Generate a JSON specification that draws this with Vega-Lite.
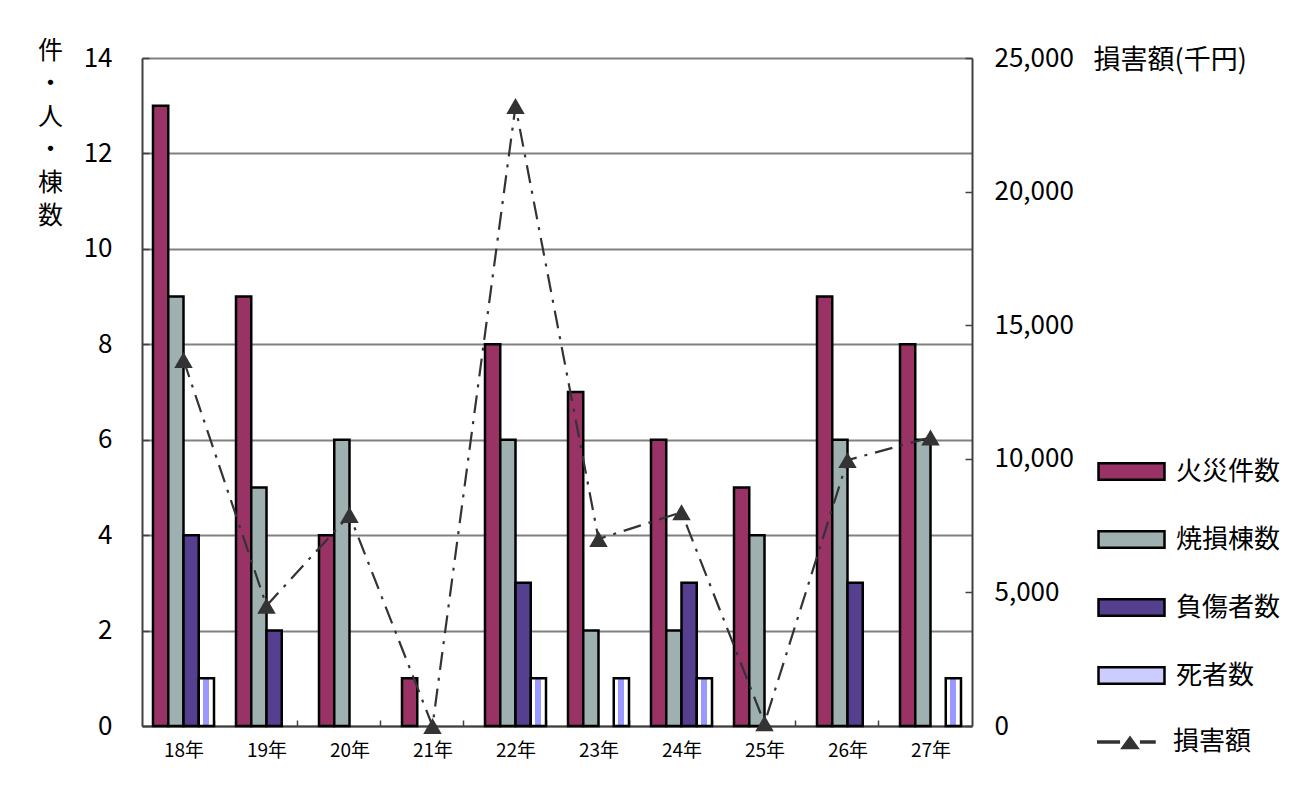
{
  "$schema": "https://vega.github.io/schema/vega-lite/v6.json",
  "autosize": {"type": "none"},
  "width": 830,
  "height": 668,
  "padding": {"left": 142, "top": 58, "right": 324, "bottom": 75},
  "background": "white",
  "config": {
    "font": "Noto Sans CJK JP",
    "view": {"stroke": null},
    "axis": {"labelColor": "black", "titleColor": "black", "labelFont": "Noto Sans CJK JP", "titleFont": "Noto Sans CJK JP"},
    "legend": {"labelFont": "Noto Sans CJK JP", "labelColor": "black"}
  },
  "datasets": {
    "bars": [
      {"year": "18年", "series": "火災件数", "value": 13},
      {"year": "18年", "series": "焼損棟数", "value": 9},
      {"year": "18年", "series": "負傷者数", "value": 4},
      {"year": "18年", "series": "死者数", "value": 1},
      {"year": "19年", "series": "火災件数", "value": 9},
      {"year": "19年", "series": "焼損棟数", "value": 5},
      {"year": "19年", "series": "負傷者数", "value": 2},
      {"year": "19年", "series": "死者数", "value": 0},
      {"year": "20年", "series": "火災件数", "value": 4},
      {"year": "20年", "series": "焼損棟数", "value": 6},
      {"year": "20年", "series": "負傷者数", "value": 0},
      {"year": "20年", "series": "死者数", "value": 0},
      {"year": "21年", "series": "火災件数", "value": 1},
      {"year": "21年", "series": "焼損棟数", "value": 0},
      {"year": "21年", "series": "負傷者数", "value": 0},
      {"year": "21年", "series": "死者数", "value": 0},
      {"year": "22年", "series": "火災件数", "value": 8},
      {"year": "22年", "series": "焼損棟数", "value": 6},
      {"year": "22年", "series": "負傷者数", "value": 3},
      {"year": "22年", "series": "死者数", "value": 1},
      {"year": "23年", "series": "火災件数", "value": 7},
      {"year": "23年", "series": "焼損棟数", "value": 2},
      {"year": "23年", "series": "負傷者数", "value": 0},
      {"year": "23年", "series": "死者数", "value": 1},
      {"year": "24年", "series": "火災件数", "value": 6},
      {"year": "24年", "series": "焼損棟数", "value": 2},
      {"year": "24年", "series": "負傷者数", "value": 3},
      {"year": "24年", "series": "死者数", "value": 1},
      {"year": "25年", "series": "火災件数", "value": 5},
      {"year": "25年", "series": "焼損棟数", "value": 4},
      {"year": "25年", "series": "負傷者数", "value": 0},
      {"year": "25年", "series": "死者数", "value": 0},
      {"year": "26年", "series": "火災件数", "value": 9},
      {"year": "26年", "series": "焼損棟数", "value": 6},
      {"year": "26年", "series": "負傷者数", "value": 3},
      {"year": "26年", "series": "死者数", "value": 0},
      {"year": "27年", "series": "火災件数", "value": 8},
      {"year": "27年", "series": "焼損棟数", "value": 6},
      {"year": "27年", "series": "負傷者数", "value": 0},
      {"year": "27年", "series": "死者数", "value": 1}
    ],
    "damage": [
      {"year": "18年", "label": "損害額", "damage": 13700},
      {"year": "19年", "label": "損害額", "damage": 4500},
      {"year": "20年", "label": "損害額", "damage": 7900},
      {"year": "21年", "label": "損害額", "damage": 0},
      {"year": "22年", "label": "損害額", "damage": 23200},
      {"year": "23年", "label": "損害額", "damage": 7000},
      {"year": "24年", "label": "損害額", "damage": 8000},
      {"year": "25年", "label": "損害額", "damage": 100},
      {"year": "26年", "label": "損害額", "damage": 9950},
      {"year": "27年", "label": "損害額", "damage": 10800}
    ]
  },
  "encoding": {
    "x": {
      "field": "year",
      "type": "nominal",
      "sort": null,
      "scale": {"paddingInner": 0.265, "paddingOuter": 0.1325},
      "axis": {
        "title": null,
        "labelAngle": 0,
        "labelFontSize": 19,
        "labelPadding": 21,
        "tickBand": "extent",
        "tickSize": -6,
        "tickColor": "#404040",
        "tickWidth": 1.5,
        "domainColor": "#404040",
        "domainWidth": 2,
        "grid": false
      }
    }
  },
  "layer": [
    {
      "data": {"name": "bars"},
      "transform": [{"filter": "datum.value > 0"}],
      "mark": {"type": "bar", "stroke": "black", "strokeWidth": 2.5},
      "encoding": {
        "xOffset": {"field": "series", "type": "nominal", "sort": ["火災件数", "焼損棟数", "負傷者数", "死者数"], "scale": {"domain": ["火災件数", "焼損棟数", "負傷者数", "死者数"], "paddingInner": 0, "paddingOuter": 0}},
        "y": {
          "field": "value",
          "type": "quantitative",
          "scale": {"domain": [0, 14], "nice": false},
          "axis": {
            "orient": "left",
            "values": [0, 2, 4, 6, 8, 10, 12, 14],
            "labelFontSize": 26,
            "labelPadding": 37,
            "tickSize": -7,
            "tickColor": "#404040",
            "tickWidth": 1.5,
            "domainColor": "#404040",
            "domainWidth": 2,
            "grid": true,
            "gridColor": "#808080",
            "gridWidth": 2,
            "title": ["件", "・", "人", "・", "棟", "数"],
            "titleAngle": 0,
            "titleFontSize": 25,
            "titleFontWeight": "normal",
            "titleLineHeight": 33,
            "titleAlign": "center",
            "titleBaseline": "top",
            "titleX": -92,
            "titleY": -20
          }
        },
        "color": {
          "condition": {
            "test": "datum.series === '死者数'",
            "value": {"gradient": "linear", "x1": 0, "y1": 0, "x2": 1, "y2": 0, "stops": [
              {"offset": 0, "color": "#ffffff"},
              {"offset": 0.3, "color": "#ffffff"},
              {"offset": 0.3, "color": "#9999ff"},
              {"offset": 0.65, "color": "#9999ff"},
              {"offset": 0.65, "color": "#ffffff"},
              {"offset": 1, "color": "#ffffff"}
            ]}
          },
          "field": "series",
          "type": "nominal",
          "sort": ["火災件数", "焼損棟数", "負傷者数", "死者数"],
          "scale": {
            "domain": ["火災件数", "焼損棟数", "負傷者数", "死者数"],
            "range": ["#993366", "#9eb0b0", "#553f8f", "#ccccff"]
          },
          "legend": {
            "title": null,
            "orient": "none",
            "legendX": 955,
            "legendY": 379,
            "symbolType": "M-1,-0.25L1,-0.25L1,0.25L-1,0.25Z",
            "symbolSize": 4356,
            "symbolStrokeColor": "black",
            "symbolStrokeWidth": 2.5,
            "labelFontSize": 26,
            "labelOffset": 10,
            "rowPadding": 20,
            "labelLimit": 300
          }
        }
      }
    },
    {
      "data": {"name": "damage"},
      "mark": {"type": "line", "color": "#333333", "strokeWidth": 2.2, "strokeDash": [18, 8, 3, 8]},
      "encoding": {
        "y": {
          "field": "damage",
          "type": "quantitative",
          "scale": {"domain": [0, 25000], "nice": false},
          "axis": {
            "orient": "right",
            "values": [0, 5000, 10000, 15000, 20000, 25000],
            "format": ",d",
            "labelFontSize": 26,
            "labelPadding": 29,
            "tickSize": -7,
            "tickColor": "#404040",
            "tickWidth": 1.5,
            "domainColor": "#404040",
            "domainWidth": 2,
            "grid": false,
            "title": "損害額(千円)",
            "titleAngle": 0,
            "titleFontSize": 27,
            "titleFontWeight": "normal",
            "titleAlign": "left",
            "titleBaseline": "middle",
            "titleX": 121,
            "titleY": 2
          }
        }
      }
    },
    {
      "data": {"name": "damage"},
      "mark": {"type": "point", "filled": true, "shape": "triangle-up", "opacity": 1, "size": 340},
      "encoding": {
        "y": {"field": "damage", "type": "quantitative", "scale": {"domain": [0, 25000], "nice": false}, "axis": null},
        "color": {
          "field": "label",
          "type": "nominal",
          "scale": {"range": ["#333333"]},
          "legend": {
            "title": null,
            "orient": "none",
            "legendX": 955,
            "legendY": 651,
            "symbolType": "M-1,-0.05L-0.3,-0.05L-0.3,0.05L-1,0.05Z M-0.3,0.22L0,-0.2L0.3,0.22Z M0.3,-0.05L0.78,-0.05L0.78,0.05L0.3,0.05Z",
            "symbolSize": 4356,
            "symbolFillColor": "#333333",
            "symbolStrokeWidth": 0,
            "labelFontSize": 26,
            "labelOffset": 10
          }
        }
      }
    }
  ],
  "resolve": {"scale": {"y": "independent", "color": "independent"}}
}
